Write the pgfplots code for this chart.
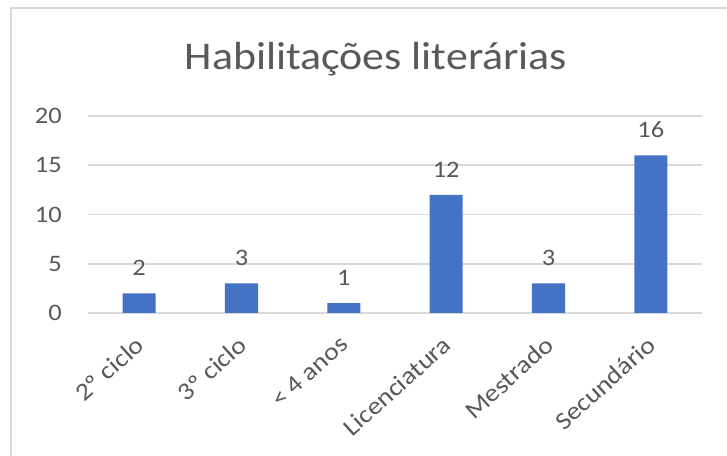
\documentclass[border=0pt]{standalone}
\usepackage{fontspec}
\setmainfont[FakeStretch=1.12]{Carlito}
\usepackage{pgfplots}
\pgfplotsset{compat=1.18}
\definecolor{barblue}{HTML}{4472C4}
\definecolor{txtgray}{HTML}{595959}
\definecolor{gridgray}{HTML}{D9D9D9}
\begin{document}
\begin{tikzpicture}
\useasboundingbox (0,0) rectangle (545.25pt,342pt);
\fill[white] (0,0) rectangle (545.25pt,342pt);
\draw[gridgray, line width=1.5pt] (8.25pt,0) -- (8.25pt,336pt) -- (545.25pt,336pt);
\node[anchor=base, font=\fontsize{29.4}{34}\selectfont, text=txtgray] at (282pt,289.5pt) {Habilitações literárias};
\begin{axis}[
  at={(66pt,107.25pt)}, anchor=south west,
  scale only axis, width=460.5pt, height=147.75pt,
  ybar, bar width=24.75pt,
  xmin=-0.5, xmax=5.5, ymin=0, ymax=20,
  ytick={0,5,10,15,20},
  xtick=data,
  xticklabels={2º ciclo,3º ciclo,< 4 anos,Licenciatura,Mestrado,Secundário},
  axis line style={draw=none},
  major tick length=0pt,
  ymajorgrids, grid style={gridgray, line width=1.2pt},
  /pgf/number format/assume math mode=true,
  tick label style={font=\fontsize{17.7}{20}\selectfont, text=txtgray},
  yticklabel style={anchor=east, inner sep=0pt, xshift=-19.5pt},
  xticklabel style={xshift=-3.75pt, yshift=-16pt, rotate=42, anchor=north east, inner sep=0pt, font=\fontsize{18.5}{21}\selectfont},
  nodes near coords,
  nodes near coords style={font=\fontsize{17.7}{20}\selectfont, text=txtgray, inner sep=0pt, yshift=13pt},
  clip=false,
]
\addplot[fill=barblue, draw=none] coordinates {(0,2) (1,3) (2,1) (3,12) (4,3) (5,16)};
\end{axis}
\end{tikzpicture}
\end{document}
